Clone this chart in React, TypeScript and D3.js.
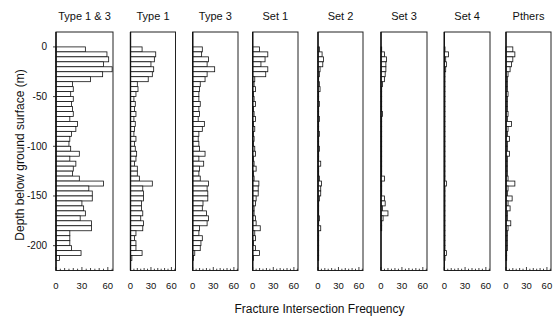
import React from "react";
import * as d3 from "d3";

const panelTitles = ["Type 1 & 3", "Type 1", "Type 3", "Set 1", "Set 2", "Set 3", "Set 4", "Pthers"];
const binTops = d3.range(0, 215, 5); // depth bins (m), 5 m each
const type13 = [34,59,61,55,65,54,40, 19,20,17,20,18,19,20,16,25,23, 18,16,15,17,27,16,23,20,19,27, 55,38,42,42,30,32,34,28,41,41, 16,16,16,18,29,4];
const type1 = [17,37,35,30,34,32,26, 10,11,8,5,7,6,8,5,7,6, 5,8,6,7,9,8,6,10,10,13, 32,18,19,19,16,16,18,15,19,18, 8,6,8,8,17,2];
const type3 = [14,13,23,21,32,21,18, 11,10,9,9,11,9,10,8,17,14, 9,8,9,10,18,9,16,10,9,11, 23,21,22,22,15,14,20,23,21,10, 9,14,12,11,3,1];
const set1 = [10,22,18,12,22,19,3, 2,4,1,2,4,1,2,4,1,3, 1,2,1,3,4,1,2,5,1,2, 9,8,8,5,4,2,2,4,5,11, 3,4,1,4,10,1];
const set2 = [2,6,8,7,3,2,1, 2,3,1,1,2,1,1,2,1,1, 2,1,1,2,1,1,4,1,1,2, 5,4,4,2,1,1,1,2,1,4, 1,1,1,1,1,1];
const set3 = [1,5,8,7,7,6,5, 2,1,1,1,1,1,2,1,1,1, 1,1,1,1,1,1,1,1,1,5, 1,1,1,5,6,2,10,3,1,1, 0,0,0,0,0,0];
const set4 = [1,6,2,3,2,1,1, 1,1,1,1,1,1,1,1,1,1, 1,1,1,1,1,1,1,1,1,1, 3,1,1,1,1,1,1,1,1,1, 1,1,1,1,3,1];
const others = [10,13,10,8,6,3,2, 2,2,3,2,2,2,3,2,8,3, 2,5,2,2,5,2,2,2,2,3, 13,3,2,9,3,6,2,2,7,3, 2,2,2,2,1,1];
const seriesList = [type13, type1, type3, set1, set2, set3, set4, others];
const xTickLabels = [0, 30, 60];
const yTickValues = [0, -50, -100, -150, -200];

const panelLefts = [56, 130.5, 192.7, 252.7, 318, 381, 444.3, 506];
const panelWidths = [57, 45, 45.3, 45.3, 45, 46, 45.7, 45];
const top = 32;
const bottom = 270.5;
const font = "'Liberation Sans', Arial, Helvetica, sans-serif";

export default function App() {
  const y = d3.scaleLinear().domain([15, -225]).range([top, bottom]);
  return (
    <svg width={556} height={321} style={{ position: "absolute", left: 0, top: 0, background: "#fff" }} fontFamily={font}>
      <rect x={0} y={0} width={556} height={321} fill="#fff" />
      {seriesList.map((vals, p) => {
        const x0 = panelLefts[p];
        const w = panelWidths[p];
        const x = d3.scaleLinear().domain([0, 66]).range([x0, x0 + w]);
        const minor = d3.range(0, 66, 5);
        return (
          <g key={p}>
            <text x={x0 + w / 2} y={20} fontSize={11} textAnchor="middle" fill="#111">{panelTitles[p]}</text>
            {vals.map((v, i) => {
              const yt = y(-binTops[i]);
              const yb = y(-(binTops[i] + 5));
              return v > 0 ? (
                <rect key={i} x={x(0)} y={yt} width={x(v) - x(0)} height={yb - yt}
                  fill="#fff" stroke="#111" strokeWidth={0.8} />
              ) : null;
            })}
            <rect x={x0} y={top} width={w} height={bottom - top} fill="none" stroke="#222" strokeWidth={1} />
            <line x1={x0} x2={x0} y1={top} y2={bottom} stroke="#111" strokeWidth={1.4} />
            {minor.map((t) => (
              <line key={t} x1={x(t)} x2={x(t)} y1={bottom} y2={bottom - (t % 30 === 0 ? 3.5 : t % 10 === 0 ? 2.5 : 1.8)} stroke="#111" strokeWidth={0.8} />
            ))}
            {xTickLabels.map((t) => (
              <text key={t} x={x(t)} y={288.5} fontSize={9.5} textAnchor="middle" fill="#111">{t}</text>
            ))}
          </g>
        );
      })}
      {yTickValues.map((t) => (
        <g key={t}>
          <line x1={panelLefts[0] - 3} x2={panelLefts[0]} y1={y(t)} y2={y(t)} stroke="#111" strokeWidth={0.8} />
          <text x={47} y={y(t) + 3.5} fontSize={10} textAnchor="end" fill="#111">{t === 0 ? "0" : `-${Math.abs(t)}`}</text>
        </g>
      ))}
      <text transform={`translate(24,155) rotate(-90)`} fontSize={12} textAnchor="middle" fill="#111">Depth below ground surface (m)</text>
      <text x={319.5} y={312.5} fontSize={12} textAnchor="middle" fill="#111">Fracture Intersection Frequency</text>
    </svg>
  );
}
